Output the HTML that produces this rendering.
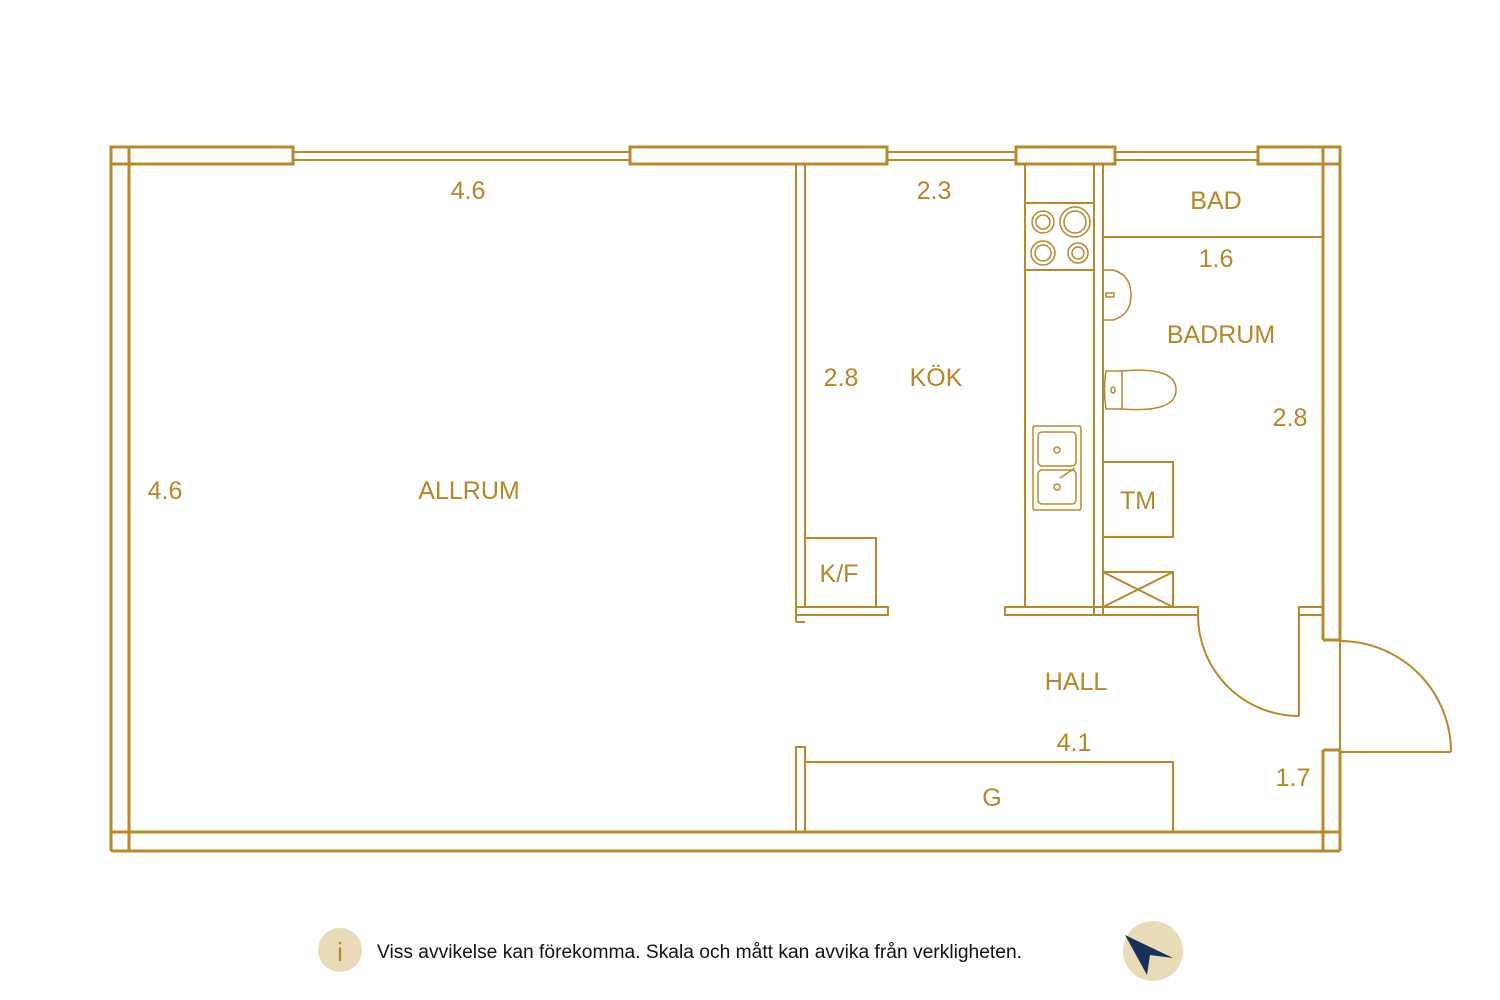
<!DOCTYPE html>
<html><head><meta charset="utf-8"><style>
html,body{margin:0;padding:0;background:#fff;width:1500px;height:1000px;overflow:hidden}
svg{display:block}
text{font-family:"Liberation Sans",sans-serif;fill:#B5862A}
</style></head><body>
<svg width="1500" height="1000" viewBox="0 0 1500 1000" xmlns="http://www.w3.org/2000/svg">
<g fill="none" stroke="#B8882C">
<g stroke-width="3">
<rect x="111" y="147" width="182" height="17"/>
<rect x="630" y="147" width="257" height="17"/>
<rect x="1016" y="147" width="99" height="17"/>
<rect x="1258" y="147" width="82" height="17"/>
<line x1="129" y1="147" x2="129" y2="851"/>
<line x1="111" y1="147" x2="111" y2="851"/>
<line x1="111" y1="851" x2="1340" y2="851"/>
<line x1="111" y1="832" x2="1340" y2="832"/>
<line x1="111" y1="164" x2="129" y2="164"/>
<line x1="1323" y1="147" x2="1323" y2="640"/>
<line x1="1340" y1="147" x2="1340" y2="640"/>
<line x1="1323" y1="640" x2="1340" y2="640"/>
<line x1="1323" y1="750" x2="1323" y2="851"/>
<line x1="1340" y1="750" x2="1340" y2="851"/>
<line x1="1323" y1="750" x2="1340" y2="750"/>
<line x1="1323" y1="164" x2="1340" y2="164"/>
</g>
<g stroke-width="2">
<line x1="293" y1="152" x2="630" y2="152"/><line x1="293" y1="160" x2="630" y2="160"/>
<line x1="887" y1="152" x2="1016" y2="152"/><line x1="887" y1="160" x2="1016" y2="160"/>
<line x1="1115" y1="152" x2="1258" y2="152"/><line x1="1115" y1="160" x2="1258" y2="160"/>
<line x1="796" y1="164" x2="796" y2="622"/><line x1="805" y1="164" x2="805" y2="607"/>
<line x1="796" y1="622" x2="805" y2="622"/>
<rect x="796" y="607" width="92" height="8"/>
<rect x="805" y="538" width="71" height="69"/>
<line x1="1025" y1="164" x2="1025" y2="607"/>
<line x1="1025" y1="203" x2="1094" y2="203"/><line x1="1025" y1="270" x2="1094" y2="270"/>
<line x1="1094" y1="164" x2="1094" y2="615"/><line x1="1103" y1="164" x2="1103" y2="615"/>
<rect x="1005" y="607" width="193" height="8"/>
<line x1="1103" y1="237" x2="1323" y2="237"/>
<rect x="1103" y="462" width="70" height="75"/>
<rect x="1103" y="572" width="70" height="35"/>
<line x1="1103" y1="572" x2="1173" y2="607"/><line x1="1173" y1="572" x2="1103" y2="607"/>
<rect x="1299" y="607" width="24" height="8"/>
<line x1="1299" y1="615" x2="1299" y2="716"/>
<path d="M1198 615 A101 101 0 0 0 1299 716"/>
<line x1="1340" y1="640" x2="1340" y2="752"/>
<line x1="1340" y1="752" x2="1451" y2="752"/>
<path d="M1340 641 A111 111 0 0 1 1451 752"/>
<rect x="805" y="762" width="368" height="70"/>
<rect x="796" y="747" width="9" height="85"/>
</g>
<g stroke-width="1.5">
<circle cx="1043" cy="222" r="11"/><circle cx="1043" cy="222" r="7"/>
<circle cx="1075" cy="222" r="15"/><circle cx="1075" cy="222" r="11"/>
<circle cx="1043" cy="253" r="12"/><circle cx="1043" cy="253" r="8"/>
<circle cx="1078" cy="253" r="10"/><circle cx="1078" cy="253" r="6"/>
<rect x="1033" y="426" width="48" height="84" rx="2"/>
<rect x="1038" y="432" width="38" height="34" rx="4"/>
<rect x="1038" y="470" width="38" height="34" rx="4"/>
<circle cx="1057" cy="450" r="3"/><circle cx="1057" cy="487" r="3"/>
<line x1="1060" y1="478" x2="1075" y2="468"/>
<path d="M1103 270 L1113 270 Q1131 275 1131 295 Q1131 315 1113 320 L1103 320"/>
<rect x="1106" y="293" width="8" height="4"/>
<path d="M1106 371 Q1103 390 1106 409 L1122 409 L1122 371 Z"/>
<path d="M1122 371 Q1176 366 1176 390 Q1176 413 1122 409"/>
<ellipse cx="1113" cy="390" rx="2" ry="3"/>
</g>
</g>
<g font-size="25" text-anchor="middle">
<text x="468" y="199">4.6</text>
<text x="934" y="199">2.3</text>
<text x="1216" y="209">BAD</text>
<text x="1216" y="267">1.6</text>
<text x="1221" y="343">BADRUM</text>
<text x="841" y="386">2.8</text>
<text x="936" y="386">KÖK</text>
<text x="1290" y="426">2.8</text>
<text x="165" y="499">4.6</text>
<text x="469" y="499">ALLRUM</text>
<text x="1138" y="509">TM</text>
<text x="839" y="582">K/F</text>
<text x="1076" y="690">HALL</text>
<text x="1074" y="751">4.1</text>
<text x="992" y="806">G</text>
<text x="1293" y="786">1.7</text>
</g>
<circle cx="340" cy="950" r="22" fill="#EADBB8"/>
<text x="340" y="961" font-size="26" text-anchor="middle">i</text>
<text x="377" y="958" font-size="19" textLength="645" lengthAdjust="spacingAndGlyphs" style="fill:#111">Viss avvikelse kan förekomma. Skala och mått kan avvika från verkligheten.</text>
<circle cx="1153" cy="951" r="30" fill="#EADBB8"/>
<path d="M1125 935 L1173 958 L1150 955 L1147 975 Z" fill="#1B2F5B"/>
</svg>
</body></html>
